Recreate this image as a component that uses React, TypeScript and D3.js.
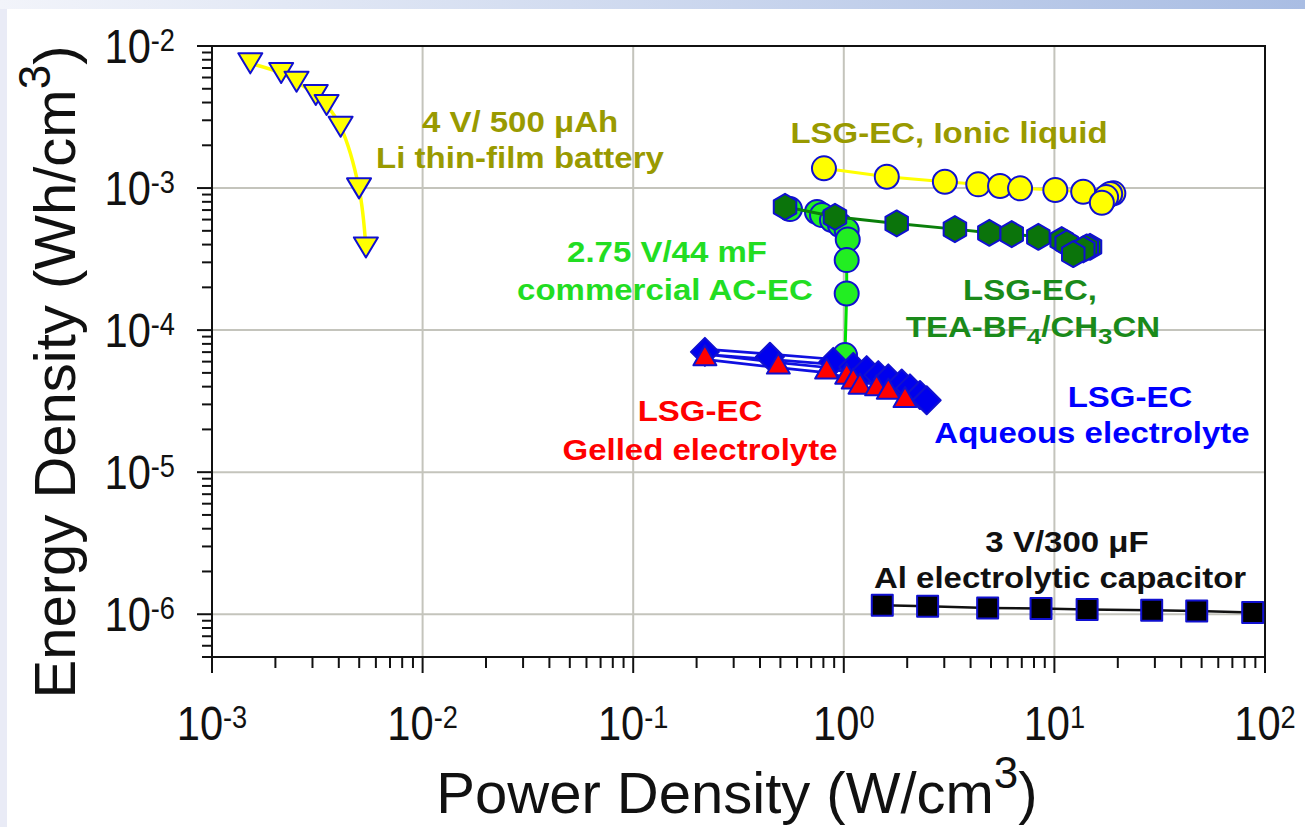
import React, { useEffect, useRef } from "react";
import * as d3 from "d3";

// 4 V / 500 uAh Li thin-film battery
const liPower = [1.52e-3, 2.13e-3, 2.52e-3, 3.11e-3, 3.5e-3, 4.08e-3, 4.99e-3, 5.38e-3];
const liEnergy = [7.55e-3, 6.45e-3, 5.61e-3, 4.52e-3, 3.84e-3, 2.7e-3, 9.95e-4, 3.82e-4];

// LSG-EC, ionic liquid
const ionicPower = [0.805, 1.6, 3.02, 4.35, 5.52, 6.87, 10.1, 13.7, 19.05, 18.4, 17.6, 16.8];
const ionicEnergy = [1.377e-3, 1.2e-3, 1.108e-3, 1.062e-3, 1.033e-3, 9.95e-4, 9.68e-4, 9.42e-4, 9.18e-4, 9.08e-4, 8.64e-4, 7.88e-4];

// 2.75 V / 44 mF commercial AC-EC
const acPower = [0.555, 0.746, 0.788, 0.879, 0.959, 1.032, 1.044, 1.032, 1.032, 1.013];
const acEnergy = [7.11e-4, 6.78e-4, 6.45e-4, 5.95e-4, 5.49e-4, 5.06e-4, 4.35e-4, 3.11e-4, 1.81e-4, 6.67e-5];

// LSG-EC, TEA-BF4/CH3CN
const teaPower = [0.526, 0.908, 1.783, 3.37, 4.91, 6.27, 8.39, 10.83, 11.44, 14.76, 14.24, 13.71, 12.29];
const teaEnergy = [7.38e-4, 6.28e-4, 5.64e-4, 5.14e-4, 4.84e-4, 4.74e-4, 4.54e-4, 4.3e-4, 4.08e-4, 3.86e-4, 3.82e-4, 3.7e-4, 3.43e-4];

// LSG-EC, aqueous electrolyte
const aqPower = [0.219, 0.446, 0.891, 1.109, 1.284, 1.458, 1.627, 1.884, 2.062, 2.3, 2.475];
const aqEnergy = [7.03e-5, 6.49e-5, 5.98e-5, 5.51e-5, 5.23e-5, 4.82e-5, 4.57e-5, 4.21e-5, 3.89e-5, 3.49e-5, 3.21e-5];

// LSG-EC, gelled electrolyte
const gelPower = [0.219, 0.489, 0.829, 1.032, 1.109, 1.194, 1.432, 1.627, 1.953];
const gelEnergy = [6.49e-5, 5.67e-5, 5.23e-5, 4.82e-5, 4.45e-5, 4.1e-5, 3.99e-5, 3.78e-5, 3.3e-5];

// 3 V / 300 uF Al electrolytic capacitor
const alPower = [1.523, 2.5, 4.82, 8.64, 14.3, 28.97, 47.4, 87.4];
const alEnergy = [1.156e-6, 1.138e-6, 1.108e-6, 1.097e-6, 1.079e-6, 1.067e-6, 1.055e-6, 1.028e-6];

const xTicks = [1e-3, 1e-2, 1e-1, 1e0, 1e1, 1e2];
const xTickExp = ["-3", "-2", "-1", "0", "1", "2"];
const yTicks = [1e-2, 1e-3, 1e-4, 1e-5, 1e-6];
const yTickExp = ["-2", "-3", "-4", "-5", "-6"];

const FONT = "'Liberation Sans', Arial, sans-serif";

const App = () => {
  const svgRef = useRef<SVGSVGElement | null>(null);

  useEffect(() => {
    const svg = d3.select(svgRef.current);
    svg.selectAll("*").remove();

    const x = d3.scaleLog().domain([1e-3, 1e2]).range([212, 1265]);
    const y = d3.scaleLog().domain([5e-7, 1e-2]).range([657, 46]);
    const [x0, x1] = x.range();
    const [y0, y1] = y.range();

    // slide background edges
    const defs = svg.append("defs");
    const g1 = defs.append("linearGradient").attr("id", "topband");
    g1.append("stop").attr("offset", "0%").attr("stop-color", "#f2f4fa");
    g1.append("stop").attr("offset", "100%").attr("stop-color", "#a9bde3");
    svg.append("rect").attr("width", 1305).attr("height", 827).attr("fill", "white");
    svg.append("rect").attr("width", 1305).attr("height", 9).attr("fill", "url(#topband)");
    svg.append("rect").attr("y", 9).attr("width", 7).attr("height", 818).attr("fill", "#e9ebf6");

    // grid
    const grid = svg.append("g").attr("stroke", "#c4c4bc").attr("stroke-width", 2);
    xTicks.slice(1, -1).forEach((v) => {
      grid.append("line").attr("x1", x(v)).attr("x2", x(v)).attr("y1", y1).attr("y2", y0);
    });
    yTicks.slice(1).forEach((v) => {
      grid.append("line").attr("x1", x0).attr("x2", x1).attr("y1", y(v)).attr("y2", y(v));
    });

    // minor + major ticks
    const ticks = svg.append("g").attr("stroke", "#111").attr("stroke-width", 2);
    for (let e = -3; e < 2; e++) {
      for (let k = 2; k <= 9; k++) {
        const v = k * Math.pow(10, e);
        ticks.append("line").attr("x1", x(v)).attr("x2", x(v)).attr("y1", y0).attr("y2", y0 + 11);
      }
    }
    xTicks.forEach((v) => {
      ticks.append("line").attr("x1", x(v)).attr("x2", x(v)).attr("y1", y0).attr("y2", y0 + 16);
    });
    for (let e = -7; e < -2; e++) {
      for (let k = 2; k <= 9; k++) {
        const v = k * Math.pow(10, e);
        if (v < 5e-7 || v > 1e-2) continue;
        ticks.append("line").attr("x1", x0 - 10).attr("x2", x0).attr("y1", y(v)).attr("y2", y(v));
      }
    }
    yTicks.forEach((v) => {
      ticks.append("line").attr("x1", x0 - 15).attr("x2", x0).attr("y1", y(v)).attr("y2", y(v));
    });

    // frame
    svg.append("rect")
      .attr("x", x0).attr("y", y1)
      .attr("width", x1 - x0).attr("height", y0 - y1)
      .attr("fill", "none").attr("stroke", "#111").attr("stroke-width", 2);

    // tick labels
    const tickLabel = (tx: number, ty: number, exp: string, anchor: string) => {
      const t = svg.append("text")
        .attr("transform", `translate(${tx},${ty}) scale(0.85,1)`)
        .attr("text-anchor", anchor)
        .attr("font-family", FONT)
        .attr("font-size", 49)
        .attr("fill", "#111");
      t.append("tspan").text("10");
      t.append("tspan").attr("font-size", 32).attr("dy", -12).text(exp);
    };
    xTicks.forEach((v, i) => tickLabel(x(v), 740, xTickExp[i], "middle"));
    yTicks.forEach((v, i) => tickLabel(175, y(v) + 17, yTickExp[i], "end"));

    // axis titles
    const xt = svg.append("text")
      .attr("x", 737).attr("y", 813)
      .attr("text-anchor", "middle")
      .attr("font-family", FONT).attr("font-size", 58).attr("fill", "#111");
    xt.append("tspan").text("Power Density (W/cm");
    xt.append("tspan").attr("font-size", 44).attr("dy", -25).text("3");
    xt.append("tspan").attr("dy", 25).text(")");

    const yt = svg.append("text")
      .attr("transform", "translate(75,372) rotate(-90)")
      .attr("text-anchor", "middle")
      .attr("font-family", FONT).attr("font-size", 58).attr("fill", "#111");
    yt.append("tspan").text("Energy Density (Wh/cm");
    yt.append("tspan").attr("font-size", 44).attr("dy", -25).text("3");
    yt.append("tspan").attr("dy", 25).text(")");

    const pts = (px: number[], ey: number[]) => px.map((p, i) => [x(p), y(ey[i])] as [number, number]);
    const line = d3.line();
    const curve = d3.line().curve(d3.curveCatmullRom.alpha(0.5));

    const markers = (data: [number, number][], path: string, fill: string) => {
      svg.append("g").selectAll("path")
        .data(data)
        .enter()
        .append("path")
        .attr("d", path)
        .attr("transform", (d) => `translate(${d[0]},${d[1]})`)
        .attr("fill", fill)
        .attr("stroke", "#1010d0")
        .attr("stroke-width", 2)
        .attr("stroke-linejoin", "round");
    };
    const circle = (r: number) => `M${-r},0A${r},${r} 0 1,0 ${r},0A${r},${r} 0 1,0 ${-r},0Z`;
    const hexagon = (r: number) =>
      d3.range(6).map((i) => {
        const a = (Math.PI / 3) * i - Math.PI / 2;
        return `${i ? "L" : "M"}${r * Math.cos(a)},${r * Math.sin(a)}`;
      }).join("") + "Z";

    // Li thin-film battery
    const li = pts(liPower, liEnergy);
    svg.append("path").attr("d", curve(li)).attr("fill", "none").attr("stroke", "#ffff00").attr("stroke-width", 3.5);
    markers(li, "M-12,-10L12,-10L0,10Z", "#ffff00");

    // ionic liquid
    const ion = pts(ionicPower, ionicEnergy);
    svg.append("path").attr("d", line(ion)).attr("fill", "none").attr("stroke", "#ffff00").attr("stroke-width", 3);
    markers(ion, circle(12), "#ffff00");

    // commercial AC-EC
    const ac = pts(acPower, acEnergy);
    svg.append("path").attr("d", line(ac)).attr("fill", "none").attr("stroke", "#00e000").attr("stroke-width", 3);
    markers(ac, circle(12), "#22ee22");

    // TEA-BF4
    const tea = pts(teaPower, teaEnergy);
    svg.append("path").attr("d", line(tea)).attr("fill", "none").attr("stroke", "#0a7f0a").attr("stroke-width", 3);
    markers(tea, hexagon(13), "#0b740b");

    // aqueous + gelled: blue outlined white lines
    const aq = pts(aqPower, aqEnergy);
    const gel = pts(gelPower, gelEnergy);
    [aq, gel].forEach((d) => {
      svg.append("path").attr("d", line(d)).attr("fill", "none").attr("stroke", "#1010e0").attr("stroke-width", 8);
    });
    [aq, gel].forEach((d) => {
      svg.append("path").attr("d", line(d)).attr("fill", "none").attr("stroke", "white").attr("stroke-width", 2.5);
    });
    markers(aq, "M0,-14L14,0L0,14L-14,0Z", "#0000ee");
    markers(gel, "M-11.5,8.5L11.5,8.5L0,-11.5Z", "#ff0000");

    // Al electrolytic capacitor
    const al = pts(alPower, alEnergy);
    svg.append("path").attr("d", line(al)).attr("fill", "none").attr("stroke", "#111").attr("stroke-width", 2.5);
    markers(al, "M-10.5,-10.5H10.5V10.5H-10.5Z", "#000");

    // annotations
    const note = (cx: number, by: number, parts: [string, string?][], color: string) => {
      const t = svg.append("text")
        .attr("transform", `translate(${cx},${by}) scale(1,0.88)`)
        .attr("text-anchor", "middle")
        .attr("font-family", FONT).attr("font-weight", "bold")
        .attr("font-size", 33).attr("fill", color);
      let shift = 0;
      parts.forEach(([s, kind]) => {
        const sub = kind === "sub";
        const dy = (sub ? 8 : 0) - shift;
        shift = sub ? 8 : 0;
        t.append("tspan").attr("dy", dy).attr("font-size", sub ? 26 : 33).text(s);
      });
    };
    note(520, 132, [["4 V/ 500 μAh"]], "#999a00");
    note(520, 168, [["Li thin-film battery"]], "#999a00");
    note(949, 143, [["LSG-EC, Ionic liquid"]], "#999a00");
    note(667, 262, [["2.75 V/44 mF"]], "#22dd22");
    note(665, 300, [["commercial AC-EC"]], "#22dd22");
    note(1030, 300, [["LSG-EC,"]], "#1a8a1a");
    note(1033, 337, [["TEA-BF"], ["4", "sub"], ["/CH"], ["3", "sub"], ["CN"]], "#1a8a1a");
    note(1130, 407, [["LSG-EC"]], "#0000ff");
    note(1092, 443, [["Aqueous electrolyte"]], "#0000ff");
    note(700, 421, [["LSG-EC"]], "#ff0000");
    note(700, 460, [["Gelled electrolyte"]], "#ff0000");
    note(1067, 552, [["3 V/300 μF"]], "#111");
    note(1060, 588, [["Al electrolytic capacitor"]], "#111");
  }, []);

  return (
    <svg
      ref={svgRef}
      width={1305}
      height={827}
      style={{ position: "absolute", left: 0, top: 0 }}
    ></svg>
  );
};

export default App;
